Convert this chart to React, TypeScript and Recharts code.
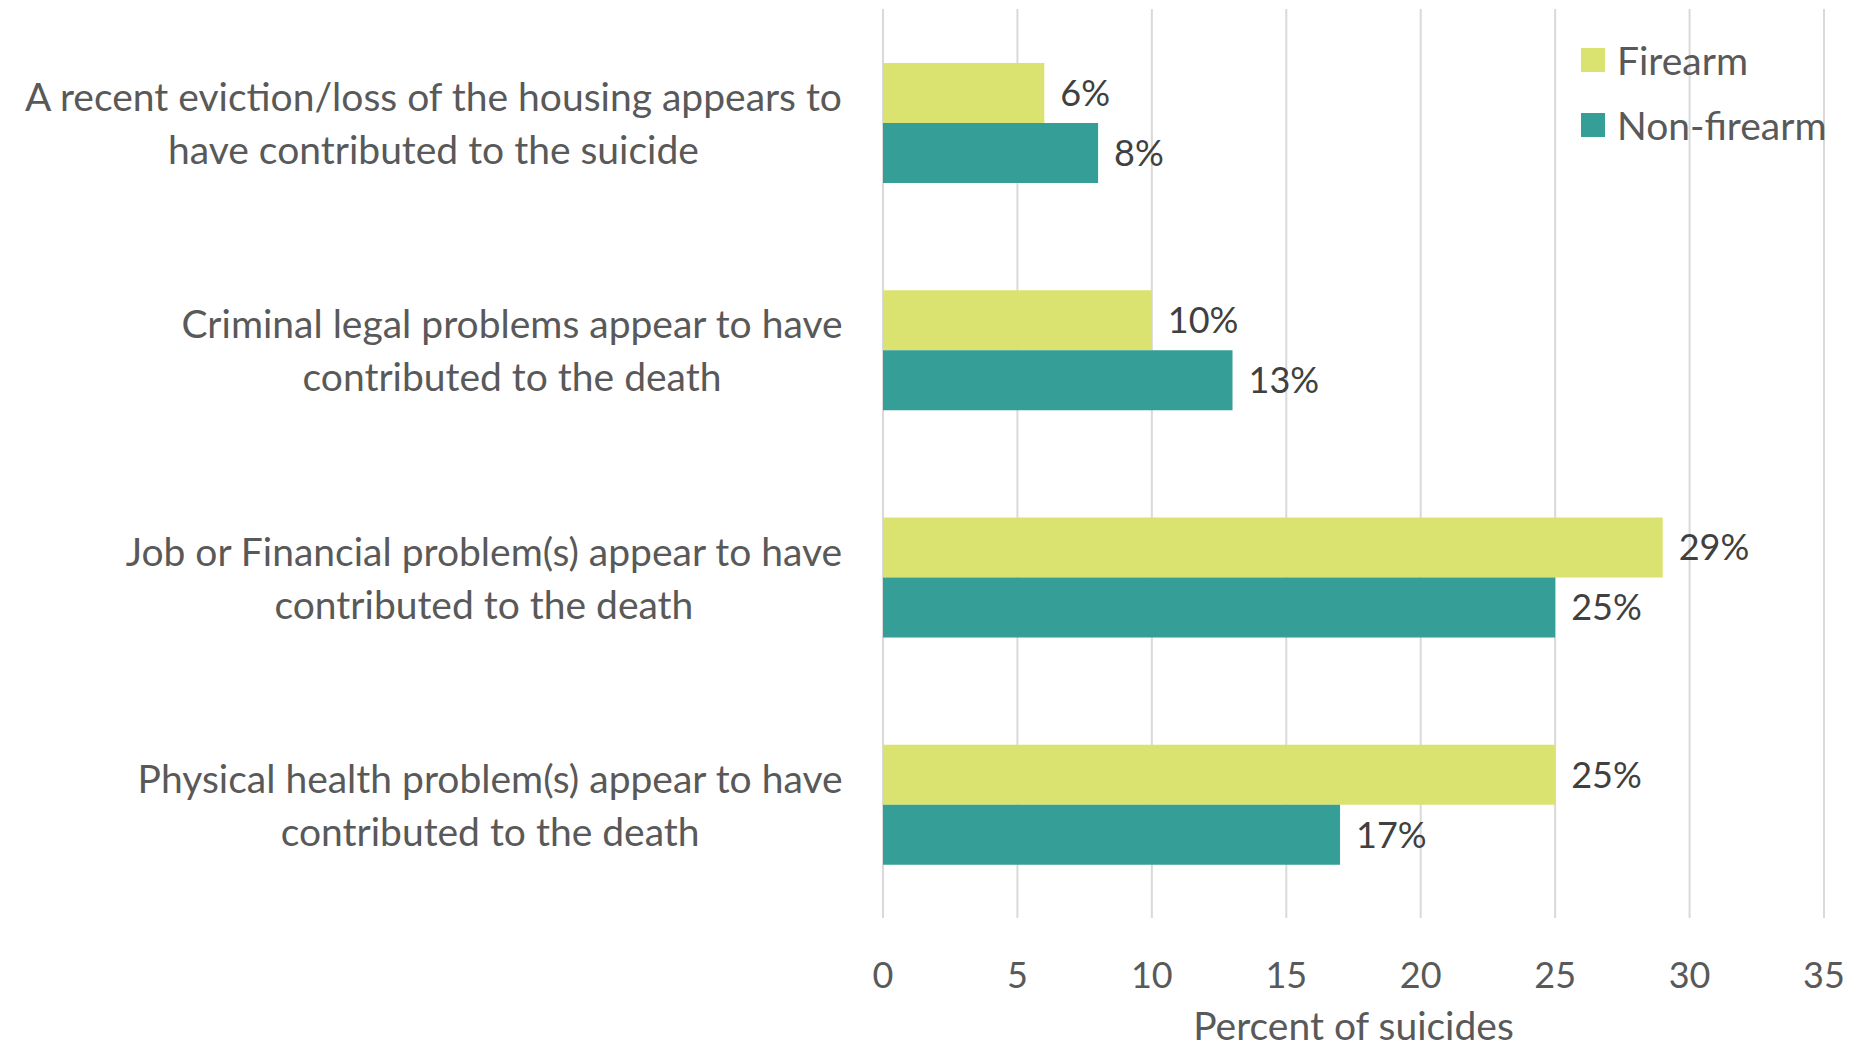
import { BarChart, Bar, XAxis, YAxis, CartesianGrid, LabelList } from 'recharts';

const categories = [
  'A recent eviction/loss of the housing appears to\nhave contributed to the suicide',
  'Criminal legal problems appear to have\ncontributed to the death',
  'Job or Financial problem(s) appear to have\ncontributed to the death',
  'Physical health problem(s) appear to have\ncontributed to the death',
];
const firearm = [6, 10, 29, 25];
const nonFirearm = [8, 13, 25, 17];
const xTicks = [0, 5, 10, 15, 20, 25, 30, 35];
const seriesNames = ['Firearm', 'Non-firearm'];

const data = categories.map((name, i) => ({ name, firearm: firearm[i], nonFirearm: nonFirearm[i] }));

const FONT = 'Lato, "Open Sans", sans-serif';
const FS_TEXT = 39;
const FS_NUM = 36;
const GREEN = '#DAE36F';
const TEAL = '#359E96';

let canvas: HTMLCanvasElement | null = null;
function measure(s: string) {
  if (!canvas) canvas = document.createElement('canvas');
  const ctx = canvas.getContext('2d')!;
  ctx.font = `${FS_TEXT}px Lato`;
  return ctx.measureText(s).width;
}

function CategoryTick(props: any) {
  const { x, y, payload } = props;
  const lines: string[] = String(payload.value).split('\n');
  const maxW = Math.max(...lines.map(measure));
  const cx = x - 40 - maxW / 2;
  const lh = 53;
  const y0 = y - ((lines.length - 1) * lh) / 2;
  return (
    <g>
      {lines.map((l, i) => (
        <text key={i} x={cx} y={y0 + i * lh} textAnchor="middle" dominantBaseline="central"
          fill="#595959" fontSize={FS_TEXT} fontFamily={FONT}>
          {l}
        </text>
      ))}
    </g>
  );
}

function ValueTick(props: any) {
  const { x, y, payload } = props;
  return (
    <text x={x} y={y + 56} textAnchor="middle" dominantBaseline="central"
      fill="#595959" fontSize={FS_NUM} fontFamily={FONT}>
      {payload.value}
    </text>
  );
}

function AxisTitle(props: any) {
  const { viewBox } = props;
  return (
    <text x={viewBox.x + viewBox.width / 2} y={viewBox.y + 107} textAnchor="middle" dominantBaseline="central"
      fill="#595959" fontSize={FS_TEXT} fontFamily={FONT}>
      Percent of suicides
    </text>
  );
}

function LegendBox() {
  const colors = [GREEN, TEAL];
  return (
    <div style={{ position: 'absolute', left: 1581, top: 27, fontFamily: FONT, fontSize: FS_TEXT, color: '#595959' }}>
      {seriesNames.map((label, i) => (
        <div key={label} style={{ display: 'flex', alignItems: 'center', height: 65 }}>
          <span style={{ width: 24, height: 24, background: colors[i], marginRight: 12, display: 'inline-block' }} />
          <span style={{ lineHeight: '44px', whiteSpace: 'nowrap' }}>{label}</span>
        </div>
      ))}
    </div>
  );
}

export default function App() {
  return (
    <div style={{ position: 'absolute', left: 0, top: 0, width: 1869, height: 1051, background: '#fff' }}>
      <BarChart
        width={1869}
        height={1051}
        data={data}
        layout="vertical"
        margin={{ top: 9, right: 45, bottom: 0, left: 0 }}
        barSize={60}
        barGap={0}
      >
        <CartesianGrid horizontal={false} stroke="#D9D9D9" strokeWidth={2} />
        <XAxis
          type="number"
          domain={[0, 35]}
          ticks={xTicks}
          axisLine={false}
          tickLine={false}
          tickSize={0}
          tickMargin={0}
          height={133}
          tick={<ValueTick />}
          interval={0}
          label={<AxisTitle />}
        />
        <YAxis
          type="category"
          dataKey="name"
          width={883}
          axisLine={false}
          tickLine={false}
          tickSize={0}
          tickMargin={0}
          tick={<CategoryTick />}
          interval={0}
        />
        <Bar dataKey="firearm" name={seriesNames[0]} fill={GREEN} isAnimationActive={false}>
          <LabelList dataKey="firearm" position="right" offset={16} formatter={(v: any) => `${v}%`}
            fill="#404040" fontSize={FS_NUM} fontFamily={FONT} />
        </Bar>
        <Bar dataKey="nonFirearm" name={seriesNames[1]} fill={TEAL} isAnimationActive={false}>
          <LabelList dataKey="nonFirearm" position="right" offset={16} formatter={(v: any) => `${v}%`}
            fill="#404040" fontSize={FS_NUM} fontFamily={FONT} />
        </Bar>
      </BarChart>
      <LegendBox />
    </div>
  );
}
